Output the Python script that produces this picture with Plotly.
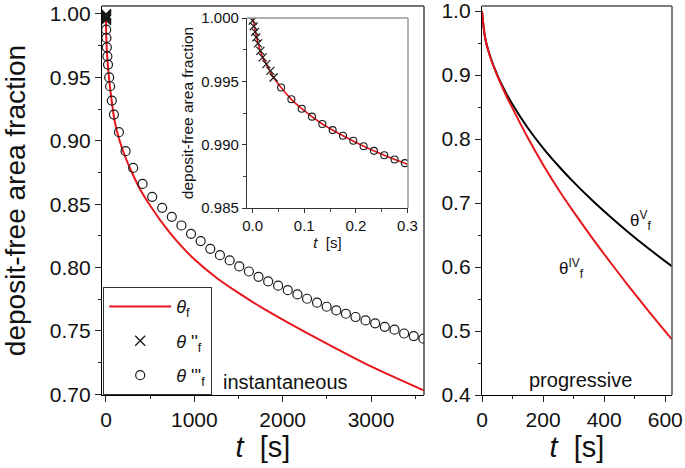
import plotly.graph_objects as go

# ---------------- data ----------------
# main panel, instantaneous nucleation
t_red_main = [0, 2, 5, 10, 20, 35, 60, 100, 150, 220, 300, 400, 500, 650, 800, 1000,
              1250, 1500, 1750, 2000, 2500, 3000, 3600]
theta_f_main = [1.0, 0.986, 0.979, 0.971, 0.961, 0.949, 0.934, 0.915, 0.901, 0.887, 0.874,
                0.860, 0.849, 0.834, 0.821, 0.8065, 0.792, 0.780, 0.769, 0.759, 0.740, 0.722, 0.703]

t_circ_main = [2, 5, 10, 16, 23, 36, 47, 66, 90, 147, 222, 308, 414, 523, 636, 745, 854, 963,
               1072, 1181, 1290, 1400, 1509, 1618, 1727, 1836, 1949, 2058, 2167, 2276, 2389,
               2498, 2607, 2716, 2825, 2938, 3047, 3156, 3266, 3375, 3484, 3593]
theta3_main = [0.9876, 0.9811, 0.9737, 0.9666, 0.9601, 0.9500, 0.9430, 0.9317, 0.9207, 0.9068,
               0.8918, 0.8786, 0.8660, 0.8558, 0.8471, 0.8400, 0.8332, 0.8266, 0.8209, 0.8148,
               0.8098, 0.8056, 0.8009, 0.7969, 0.7927, 0.7891, 0.7857, 0.7822, 0.7788, 0.7754,
               0.7723, 0.7691, 0.7662, 0.7636, 0.7610, 0.7583, 0.7560, 0.7533, 0.7510, 0.7480,
               0.7460, 0.7439]

# inset (short times)
t_cross = [0, 0.002, 0.0046, 0.0071, 0.0104, 0.0149, 0.0194, 0.0265, 0.0343, 0.0406]
theta2 = [0.99979, 0.99934, 0.99891, 0.99847, 0.99800, 0.99741, 0.99689, 0.99636, 0.99583, 0.99530]

t_circ_in = [0.055, 0.075, 0.095, 0.115, 0.135, 0.155, 0.175, 0.195, 0.215, 0.235, 0.255, 0.275, 0.295]
theta3_in = [0.99451, 0.99358, 0.99284, 0.99221, 0.99163, 0.99115, 0.99070, 0.99031, 0.98988,
             0.98951, 0.98917, 0.98883, 0.98854]

t_red_in = [0, 0.0104, 0.0194, 0.0265, 0.0406, 0.055, 0.075, 0.095, 0.135, 0.175, 0.215, 0.255, 0.3]
theta_f_in = [1.0, 0.99800, 0.99689, 0.99636, 0.99530, 0.99451, 0.99358, 0.99284, 0.99163,
              0.99070, 0.98988, 0.98917, 0.98845]

# right panel, progressive nucleation
t_prog = [0, 10, 25, 50, 75, 100, 150, 200, 255, 300, 364, 420, 473, 540, 621]
theta_IV = [1.0, 0.9588, 0.931, 0.899, 0.872, 0.848, 0.802, 0.760, 0.7177, 0.6862, 0.6433,
            0.6075, 0.5746, 0.5344, 0.4874]
theta_V = [1.0, 0.9588, 0.9319, 0.9002, 0.8754, 0.854, 0.8173, 0.786, 0.7556, 0.7327, 0.7028,
           0.6786, 0.6568, 0.6308, 0.6014]

main_yticks = [0.70, 0.75, 0.80, 0.85, 0.90, 0.95, 1.00]
main_xticks = [0, 1000, 2000, 3000]
prog_yticks = [0.4, 0.5, 0.6, 0.7, 0.8, 0.9, 1.0]
prog_xticks = [0, 200, 400, 600]
in_yticks = [0.985, 0.990, 0.995, 1.000]
in_xticks = [0.0, 0.1, 0.2, 0.3]

# ---------------- figure ----------------
RED = "#e8161b"
INK = "#1a1a1a"
FONT = "Liberation Sans, Arial, sans-serif"
W, H = 685, 468

def px_x(a, b):
    return [a / W, b / W]

def px_y(top, bottom):
    return [(H - bottom) / H, (H - top) / H]

fig = go.Figure()

# main panel
fig.add_trace(go.Scatter(x=t_red_main, y=theta_f_main, mode="lines",
                         line=dict(color=RED, width=2, shape="spline", smoothing=0.8),
                         name="<i>θ</i><sub>f</sub>", legendgroup="a", xaxis="x", yaxis="y"))
fig.add_trace(go.Scatter(x=t_cross, y=theta2, mode="markers",
                         marker=dict(symbol="x-thin-open", size=10, color=INK, line=dict(color=INK, width=1.3)),
                         name="<i>θ</i> ''<sub>f</sub>", legendgroup="b", xaxis="x", yaxis="y"))
fig.add_trace(go.Scatter(x=t_circ_main, y=theta3_main, mode="markers",
                         marker=dict(symbol="circle-open", size=9, color=INK, line=dict(width=1.2)),
                         name="<i>θ</i> '''<sub>f</sub>", legendgroup="c", xaxis="x", yaxis="y"))

# inset
fig.add_trace(go.Scatter(x=t_red_in, y=theta_f_in, mode="lines",
                         line=dict(color=RED, width=1.6, shape="spline", smoothing=0.8),
                         showlegend=False, xaxis="x3", yaxis="y3"))
fig.add_trace(go.Scatter(x=t_cross, y=theta2, mode="markers", showlegend=False,
                         marker=dict(symbol="x-thin-open", size=8, color=INK, line=dict(color=INK, width=1.2)),
                         xaxis="x3", yaxis="y3"))
fig.add_trace(go.Scatter(x=t_circ_in, y=theta3_in, mode="markers", showlegend=False,
                         marker=dict(symbol="circle-open", size=7, color=INK, line=dict(width=1.1)),
                         xaxis="x3", yaxis="y3"))

# right panel
fig.add_trace(go.Scatter(x=t_prog, y=theta_V, mode="lines",
                         line=dict(color="black", width=2, shape="spline", smoothing=0.8),
                         showlegend=False, xaxis="x2", yaxis="y2"))
fig.add_trace(go.Scatter(x=t_prog, y=theta_IV, mode="lines",
                         line=dict(color=RED, width=2, shape="spline", smoothing=0.8),
                         showlegend=False, xaxis="x2", yaxis="y2"))

axis_common = dict(showgrid=False, zeroline=False, showline=True, linecolor="black", linewidth=1.3,
                   ticks="outside", ticklen=6, tickwidth=1.2, tickcolor="#222", automargin=False,
                   ticklabeloverflow="allow")
minor_common = dict(ticklen=3, ticks="outside", tickcolor="#222")
inset_common = dict(showgrid=False, zeroline=False, showline=True, linecolor="#333", linewidth=1.2,
                    ticks="outside", ticklen=4, tickcolor="#333", automargin=False,
                    ticklabeloverflow="allow")

fig.update_layout(
    width=W, height=H, margin=dict(l=0, r=0, t=0, b=0),
    paper_bgcolor="white", plot_bgcolor="white",
    font=dict(family=FONT, color="#111"),
    xaxis=dict(domain=px_x(102, 424), range=[-45, 3600], tickvals=main_xticks, anchor="y",
               tickfont=dict(size=21), minor=dict(dtick=500, **minor_common),
               title=dict(text="<i>t</i>  [s]", font=dict(size=29), standoff=6), **axis_common),
    yaxis=dict(domain=px_y(6, 395), range=[0.6995, 1.0063], tickvals=main_yticks, tickformat=".2f",
               anchor="x", tickfont=dict(size=21), minor=dict(dtick=0.025, **minor_common),
               title=dict(text="deposit-free area fraction", font=dict(size=28), standoff=19), **axis_common),
    xaxis2=dict(domain=px_x(482, 672), range=[0, 622], tickvals=prog_xticks, anchor="y2",
                tickfont=dict(size=21), minor=dict(dtick=100, **minor_common),
                title=dict(text="<i>t</i>  [s]", font=dict(size=29), standoff=6), **axis_common),
    yaxis2=dict(domain=px_y(6, 395), range=[0.4, 1.008], tickvals=prog_yticks, tickformat=".1f",
                anchor="x2", tickfont=dict(size=21), minor=dict(dtick=0.05, **minor_common),
                **axis_common),
    xaxis3=dict(domain=px_x(247, 408), range=[-0.011, 0.301], tickvals=in_xticks, tickformat=".1f",
                anchor="y3", tickfont=dict(size=15), minor=dict(dtick=0.05, ticklen=3, ticks="outside", tickcolor="#444"),
                title=dict(text="<i>t</i>  [s]", font=dict(size=15), standoff=4), **inset_common),
    yaxis3=dict(domain=px_y(18, 208), range=[0.985, 1.0], tickvals=in_yticks, tickformat=".3f",
                anchor="x3", tickfont=dict(size=15), minor=dict(dtick=0.0025, ticklen=3, ticks="outside", tickcolor="#444"),
                title=dict(text="deposit-free area fraction", font=dict(size=15.5), standoff=3), **inset_common),
    legend=dict(x=103 / W, y=(H - 287) / H, xanchor="left", yanchor="top",
                bordercolor="#333", borderwidth=1.2, bgcolor="white",
                font=dict(size=18, family=FONT), itemwidth=62, tracegroupgap=8),
    showlegend=True,
)

# frame lines on top and right of panels
for xr, yr, col in [("x domain", "y domain", "#444"), ("x2 domain", "y2 domain", "#555"), ("x3 domain", "y3 domain", "#999")]:
    fig.add_shape(type="line", xref=xr, yref=yr, x0=0, x1=1, y0=1, y1=1, line=dict(color=col, width=1.5))
    fig.add_shape(type="line", xref=xr, yref=yr, x0=1, x1=1, y0=0, y1=1, line=dict(color=col, width=1.5))

ann_font = dict(family=FONT, color="#111")
fig.add_annotation(text="instantaneous", x=285 / W, y=(H - 382) / H, xref="paper", yref="paper",
                   xanchor="center", yanchor="middle", showarrow=False, font=dict(size=20, **ann_font))
fig.add_annotation(text="progressive", x=580 / W, y=(H - 380) / H, xref="paper", yref="paper",
                   xanchor="center", yanchor="middle", showarrow=False, font=dict(size=20, **ann_font))
fig.add_annotation(text="θ<sup>IV</sup><sub>f</sub>", x=571 / W, y=(H - 268) / H, xref="paper", yref="paper",
                   xanchor="center", yanchor="middle", showarrow=False, font=dict(size=17, **ann_font))
fig.add_annotation(text="θ<sup>V</sup><sub>f</sub>", x=640 / W, y=(H - 220) / H, xref="paper", yref="paper",
                   xanchor="center", yanchor="middle", showarrow=False, font=dict(size=17, **ann_font))

fig.write_html("out.html", config={"displayModeBar": False},
               post_script="document.body.style.margin='0';document.body.style.overflow='hidden';")
